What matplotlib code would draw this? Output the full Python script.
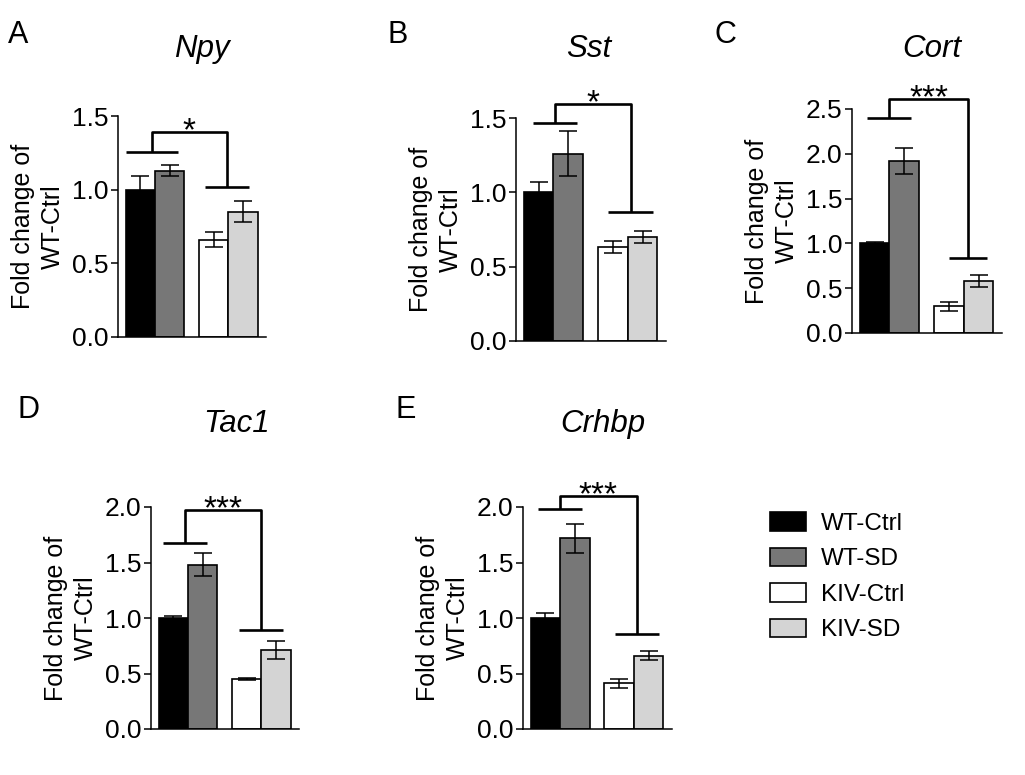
import matplotlib
matplotlib.use('Agg')
import matplotlib.pyplot as plt
import numpy as np

plt.rcParams['font.family'] = ['Liberation Sans', 'DejaVu Sans']

# data (mean fold change, error = SEM)
groups = ['WT-Ctrl', 'WT-SD', 'KIV-Ctrl', 'KIV-SD']
genes = ['Npy', 'Sst', 'Cort', 'Tac1', 'Crhbp']
letters = ['A', 'B', 'C', 'D', 'E']

npy_mean = [1.00, 1.13, 0.66, 0.85]
npy_err = [0.09, 0.04, 0.05, 0.07]
sst_mean = [1.00, 1.26, 0.63, 0.70]
sst_err = [0.07, 0.15, 0.04, 0.04]
cort_mean = [1.00, 1.92, 0.30, 0.58]
cort_err = [0.02, 0.14, 0.05, 0.065]
tac1_mean = [1.00, 1.48, 0.45, 0.71]
tac1_err = [0.015, 0.105, 0.005, 0.08]
crhbp_mean = [1.00, 1.72, 0.41, 0.66]
crhbp_err = [0.045, 0.13, 0.037, 0.042]

y_max = [1.5, 1.5, 2.5, 2.0, 2.0]
stars = ['*', '*', '***', '***', '***']
sig_left = [1.258, 1.468, 2.40, 1.68, 1.98]     # WT group line
sig_right = [1.02, 0.87, 0.84, 0.89, 0.852]     # KIV group line
sig_top = [1.39, 1.594, 2.61, 1.975, 2.10]      # bracket

means = [npy_mean, sst_mean, cort_mean, tac1_mean, crhbp_mean]
errs = [npy_err, sst_err, cort_err, tac1_err, crhbp_err]

colors = ['#000000', '#777777', '#ffffff', '#d4d4d4']
xpos = np.array([0, 1, 2.5, 3.5])

W, H = 1025, 775
fig = plt.figure(figsize=(W / 100, H / 100), dpi=100)

# axes rects in pixels: left (y axis), right end, top, bottom
rects = [(118, 266, 116, 337),
         (516, 666, 118, 341),
         (852, 1002, 109, 333),
         (151, 299, 507, 729),
         (523, 672, 507, 729)]
title_x = [202, 589, 932, 237, 603]
title_base = [57, 57, 57, 432, 432]
letter_x = [8, 387, 715, 17, 395]
letter_base = [43, 43, 43, 418, 418]
left_span = [(-0.5, 1.3), (-0.2, 1.3), (-0.25, 1.22), (-0.35, 1.14), (-0.25, 1.24)]
right_span = [(2.2, 3.7), (2.34, 3.85), (2.5, 3.8), (2.25, 3.74), (2.35, 3.84)]

for i in range(5):
    l, r, t, b = rects[i]
    ax = fig.add_axes([l / W, 1 - b / H, (r - l) / W, (b - t) / H])
    bars = ax.bar(xpos, means[i], width=1.0, color=colors, edgecolor='black',
                  linewidth=1.2, label=groups)
    ax.errorbar(xpos, means[i], yerr=errs[i], fmt='none', ecolor='black',
                elinewidth=1.1, capsize=6.5, capthick=1.1, zorder=3)
    ax.set_xlim(-0.76, 4.29)
    ax.set_ylim(0, y_max[i])
    ax.set_yticks(np.arange(0, y_max[i] + 0.01, 0.5))
    ax.set_yticklabels(['%.1f' % v for v in np.arange(0, y_max[i] + 0.01, 0.5)])
    ax.set_xticks([])
    ax.spines['top'].set_visible(False)
    ax.spines['right'].set_visible(False)
    for s in ['left', 'bottom']:
        ax.spines[s].set_linewidth(1.1)
    ax.tick_params(axis='y', length=5, width=1.1, pad=2, labelsize=19)
    ax.set_ylabel('Fold change of\nWT-Ctrl', fontsize=18, labelpad=5,
                  linespacing=1.3)

    # significance bracket
    ls0, ls1 = left_span[i]
    rs0, rs1 = right_span[i]
    xl = (ls0 + ls1) / 2
    xr = (rs0 + rs1) / 2
    kw = dict(color='black', lw=1.9, clip_on=False, solid_capstyle='butt')
    ax.plot([ls0, ls1], [sig_left[i]] * 2, **kw)
    ax.plot([rs0, rs1], [sig_right[i]] * 2, **kw)
    ax.plot([xl, xl, xr, xr], [sig_left[i], sig_top[i], sig_top[i], sig_right[i]], **kw)
    ax.annotate(stars[i], xy=((xl + xr) / 2, sig_top[i]), xytext=(0, -11),
                textcoords='offset points', ha='center', va='bottom',
                fontsize=24, annotation_clip=False)

    fig.text(title_x[i] / W, 1 - title_base[i] / H, genes[i], fontsize=22.5,
             style='italic', ha='center', va='baseline')
    fig.text(letter_x[i] / W, 1 - letter_base[i] / H, letters[i], fontsize=22,
             ha='left', va='baseline')

fig.legend(bars, groups, loc='upper left', bbox_to_anchor=(770 / W, 1 - 512 / H),
           frameon=False, fontsize=17.5, handlelength=1.47, handleheight=0.82,
           handletextpad=0.62, labelspacing=0.52, borderpad=0, borderaxespad=0)

fig.savefig('out.png', dpi=100)
